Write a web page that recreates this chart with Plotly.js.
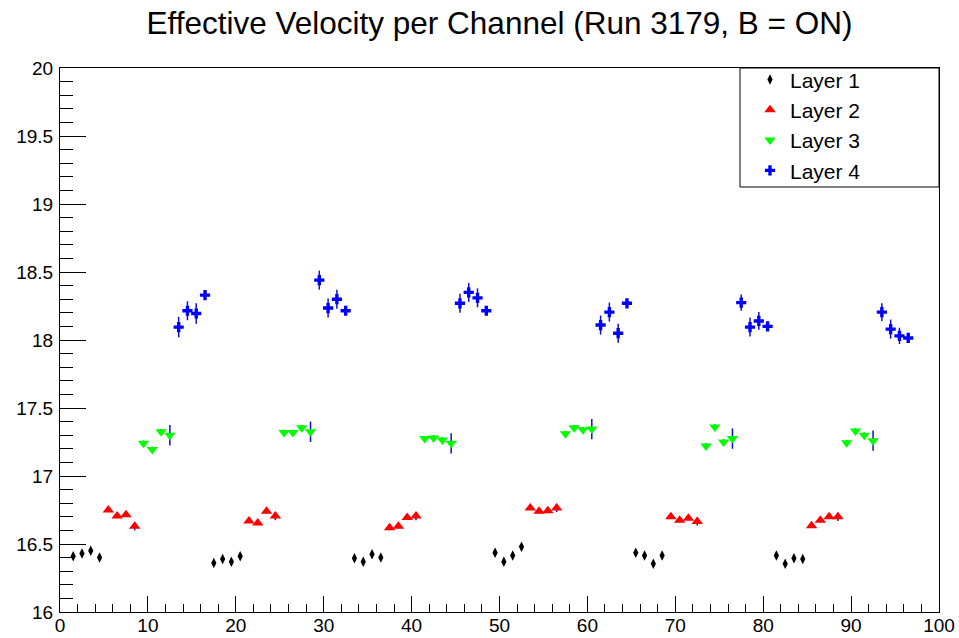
<!DOCTYPE html>
<html>
<head>
<meta charset="utf-8">
<script src="https://cdn.plot.ly/plotly-3.0.1.min.js"></script>
<style>html,body{margin:0;padding:0;background:#fff;}#chart{width:959px;height:638px;}</style>
</head>
<body>
<div id="chart"></div>
<script>
// Channel bin centres per layer
var layer1X = [1.5,2.5,3.5,4.5, 17.5,18.5,19.5,20.5, 33.5,34.5,35.5,36.5, 49.5,50.5,51.5,52.5, 65.5,66.5,67.5,68.5, 81.5,82.5,83.5,84.5];
var layer2X = [5.5,6.5,7.5,8.5, 21.5,22.5,23.5,24.5, 37.5,38.5,39.5,40.5, 53.5,54.5,55.5,56.5, 69.5,70.5,71.5,72.5, 85.5,86.5,87.5,88.5];
var layer3X = [9.5,10.5,11.5,12.5, 25.5,26.5,27.5,28.5, 41.5,42.5,43.5,44.5, 57.5,58.5,59.5,60.5, 73.5,74.5,75.5,76.5, 89.5,90.5,91.5,92.5];
var layer4X = [13.5,14.5,15.5,16.5, 29.5,30.5,31.5,32.5, 45.5,46.5,47.5,48.5, 61.5,62.5,63.5,64.5, 77.5,78.5,79.5,80.5, 93.5,94.5,95.5,96.5];

// Effective velocity values
var layer1Y = [16.41,16.43,16.45,16.40, 16.36,16.39,16.37,16.41, 16.395,16.37,16.425,16.40, 16.435,16.37,16.415,16.48, 16.435,16.415,16.355,16.415, 16.415,16.355,16.395,16.39];
var layer2Y = [16.75,16.705,16.715,16.63, 16.67,16.655,16.74,16.705, 16.62,16.63,16.695,16.705, 16.765,16.74,16.745,16.765, 16.70,16.675,16.69,16.665, 16.635,16.675,16.70,16.70];
var layer3Y = [17.24,17.195,17.325,17.30, 17.32,17.32,17.355,17.325, 17.275,17.28,17.265,17.24, 17.31,17.355,17.34,17.345, 17.22,17.36,17.25,17.275, 17.245,17.33,17.30,17.26];
var layer4Y = [18.095,18.215,18.195,18.33, 18.44,18.235,18.30,18.215, 18.27,18.35,18.31,18.215, 18.11,18.205,18.05,18.27, 18.275,18.095,18.14,18.10, 18.205,18.08,18.03,18.015];

// Errors
var layer1Err = [0.02,0.02,0.02,0.02, 0.02,0.02,0.02,0.02, 0.02,0.02,0.02,0.02, 0.02,0.02,0.02,0.02, 0.02,0.02,0.02,0.02, 0.02,0.02,0.02,0.02];
var layer2Err = [0.015,0.015,0.015,0.03, 0.015,0.015,0.015,0.03, 0.015,0.015,0.015,0.03, 0.015,0.015,0.015,0.03, 0.015,0.015,0.015,0.03, 0.015,0.015,0.015,0.03];
var layer3Err = [0.02,0.02,0.02,0.075, 0.02,0.02,0.02,0.075, 0.02,0.02,0.02,0.075, 0.02,0.02,0.02,0.075, 0.02,0.02,0.02,0.075, 0.02,0.02,0.02,0.075];
var layer4Err = [0.075,0.07,0.075,0.02, 0.07,0.07,0.07,0.02, 0.07,0.07,0.07,0.02, 0.07,0.07,0.07,0.02, 0.06,0.07,0.065,0.02, 0.065,0.07,0.06,0.02];

var layerNames = ["Layer 1","Layer 2","Layer 3","Layer 4"];

var FONT = "Liberation Sans, Arial, Helvetica, sans-serif";
function errOpts(arr){ return {type:'data', array:arr, visible:true, color:'#1010d0', thickness:1.5, width:0}; }

var traces = [
  {x:layer1X, y:layer1Y, error_y:errOpts(layer1Err), mode:'markers', type:'scatter', name:layerNames[0], legendgroup:'a',
   marker:{symbol:'diamond-tall', size:7.5, color:'#000000', line:{width:0}}},
  {x:layer2X, y:layer2Y, error_y:errOpts(layer2Err), mode:'markers', type:'scatter', name:layerNames[1], legendgroup:'b',
   marker:{symbol:'triangle-up', size:10, color:'#ff0000', line:{width:0}}},
  {x:layer3X, y:layer3Y, error_y:errOpts(layer3Err), mode:'markers', type:'scatter', name:layerNames[2], legendgroup:'c',
   marker:{symbol:'triangle-down', size:10, color:'#00ff00', line:{width:0}}},
  {x:layer4X, y:layer4Y, error_y:errOpts(layer4Err), mode:'markers', type:'scatter', name:layerNames[3], legendgroup:'d',
   marker:{symbol:'cross', size:8.5, color:'#0000ff', line:{width:0}}}
];

var axisCommon = {
  showline:true, mirror:true, linecolor:'#000', linewidth:1,
  showgrid:false, zeroline:false, ticks:'inside', tickcolor:'#000', tickwidth:1,
  tickfont:{family:FONT, size:19, color:'#000'}
};

var layout = {
  width:959, height:638,
  margin:{l:60, r:20, t:68, b:26},
  paper_bgcolor:'#fff', plot_bgcolor:'#fff',
  title:{text:'Effective Velocity per Channel (Run 3179, B = ON)', font:{family:FONT, size:31.5, color:'#000'},
         xref:'paper', x:0.5, xanchor:'center', yref:'container', y:1-23/638, yanchor:'middle'},
  xaxis:Object.assign({}, axisCommon, {range:[0,100], tick0:0, dtick:10, ticklen:16, ticklabelstandoff:-4,
         minor:{dtick:2, ticklen:8, ticks:'inside', tickcolor:'#000', showgrid:false}}),
  yaxis:Object.assign({}, axisCommon, {range:[16,20], tick0:16, dtick:0.5, ticklen:26, ticklabelstandoff:2,
         minor:{dtick:0.1, ticklen:13, ticks:'inside', tickcolor:'#000', showgrid:false}}),
  showlegend:true,
  legend:{x:(750-60)/879, y:1.016, xanchor:'left', yanchor:'top', bgcolor:'rgba(0,0,0,0)', borderwidth:0,
          font:{family:FONT, size:21, color:'#000'}, traceorder:'grouped', tracegroupgap:0, itemsizing:'trace'},
  shapes:[{type:'rect', xref:'paper', yref:'paper', x0:(740-60)/879, x1:1, y0:(612-187)/544, y1:1,
           line:{color:'#000', width:1}, fillcolor:'rgba(0,0,0,0)'}]
};

Plotly.newPlot('chart', traces, layout, {staticPlot:true, displayModeBar:false});
</script>
</body>
</html>
